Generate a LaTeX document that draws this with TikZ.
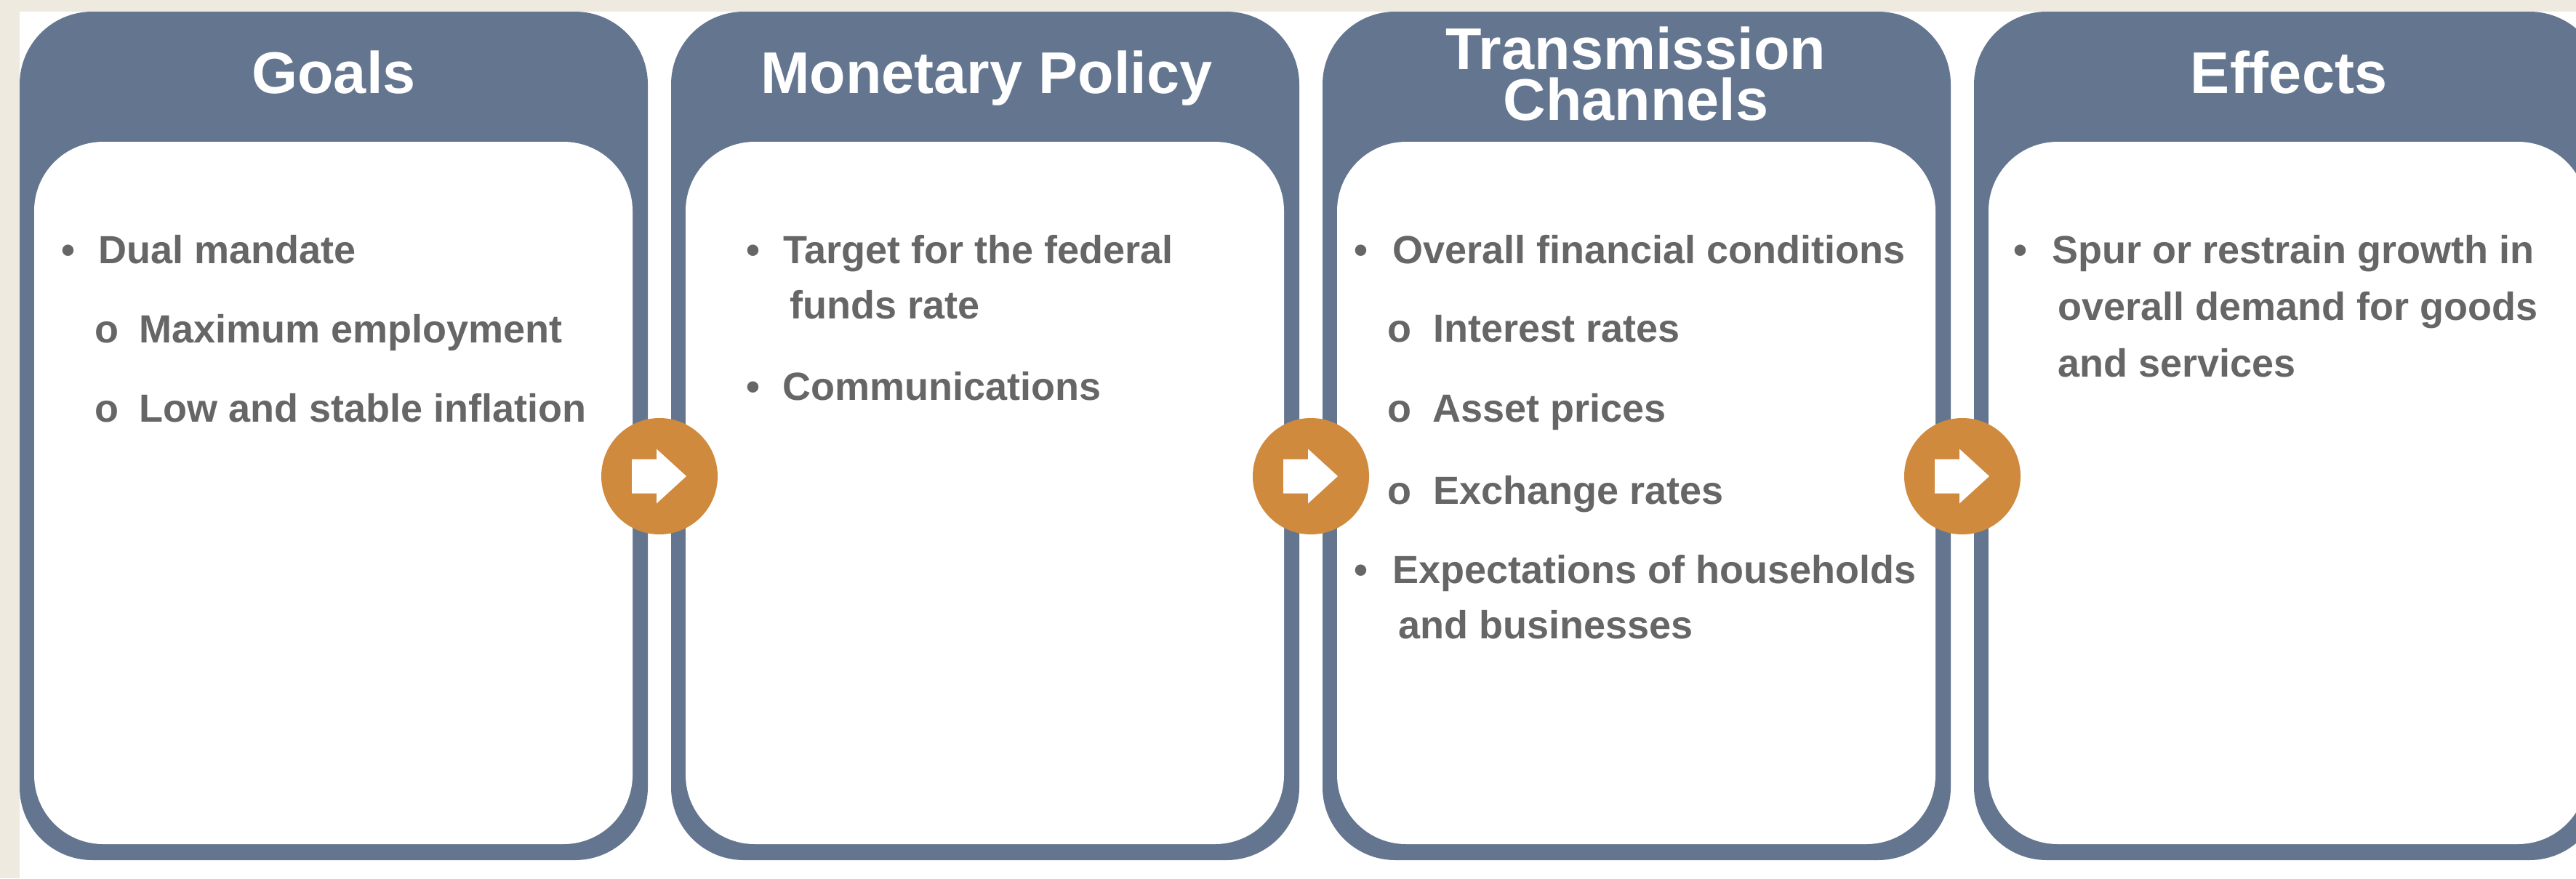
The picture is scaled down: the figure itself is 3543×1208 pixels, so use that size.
\documentclass[tikz,border=0pt]{standalone}
\usepackage{fontspec}
\setmainfont{Liberation Sans}
\definecolor{bgbeige}{HTML}{EEEAE0}
\definecolor{slate}{HTML}{64768F}
\definecolor{txtgray}{HTML}{666666}
\definecolor{circorange}{HTML}{CF8A3E}
\tikzset{
  panelouter/.style={fill=slate, rounded corners=100pt},
  panelinner/.style={fill=white, rounded corners=95pt},
  titletext/.style={inner sep=0pt, anchor=base, text=white, font=\fontsize{81}{70}\selectfont\bfseries},
  bodytext/.style={inner sep=0pt, anchor=base west, text=txtgray, font=\fontsize{54}{54}\selectfont\bfseries},
  bulletmark/.style={inner sep=0pt, anchor=base, text=txtgray, font=\fontsize{54}{54}\selectfont\bfseries},
  arrowcircle/.style={circle, fill=circorange, minimum size=160pt, inner sep=0pt},
  arrowshape/.style={fill=white}
}
\begin{document}
\begin{tikzpicture}[x=1pt,y=-1pt]
\useasboundingbox (0,0) rectangle (3543,1208);
\clip (0,0) rectangle (3543,1208);
\fill[bgbeige] (0,0) rectangle (3543,1208);
\fill[white] (27,16) rectangle (3543,1208);
% panels
\foreach \px in {27,923,1819,2715}{
  \fill[panelouter] (\px,16) rectangle ++(864,1167);
  \fill[panelinner] (\px+20,195) rectangle (\px+843,1161);
}
% titles
\node[titletext] (t1) at (459,128) {Goals};
\node[titletext] (t2) at (1357,128) {Monetary Policy};
\node[titletext, anchor=south, align=center] (t3) at (2250,166) {Transmission\\Channels};
\node[titletext] (t4) at (3148,128) {Effects};
% panel 1
\node[bulletmark] (b11) at (94,362) {•};
\node[bodytext] (p11) at (135,362) {Dual mandate};
\node[bulletmark] (b12) at (147,471) {o};
\node[bodytext] (p12) at (191,471) {Maximum employment};
\node[bulletmark] (b13) at (147,580) {o};
\node[bodytext] (p13) at (191,580) {Low and stable inflation};
% panel 2
\node[bulletmark] (b21) at (1036,362) {•};
\node[bodytext] (p21) at (1077,362) {Target for the federal};
\node[bodytext] (p21b) at (1086,438) {funds rate};
\node[bulletmark] (b22) at (1036,550) {•};
\node[bodytext] (p22) at (1076,550) {Communications};
% panel 3
\node[bulletmark] (b31) at (1872,362) {•};
\node[bodytext] (p31) at (1915,362) {Overall financial conditions};
\node[bulletmark] (b32) at (1925,470) {o};
\node[bodytext] (p32) at (1971,470) {Interest rates};
\node[bulletmark] (b33) at (1925,580) {o};
\node[bodytext] (p33) at (1970,580) {Asset prices};
\node[bulletmark] (b34) at (1925,693) {o};
\node[bodytext] (p34) at (1971,693) {Exchange rates};
\node[bulletmark] (b35) at (1872,802) {•};
\node[bodytext] (p35) at (1915,802) {Expectations of households};
\node[bodytext] (p35b) at (1923,878) {and businesses};
% panel 4
\node[bulletmark] (b41) at (2779,362) {•};
\node[bodytext] (p41) at (2822,362) {Spur or restrain growth in};
\node[bodytext] (p41b) at (2830,440) {overall demand for goods};
\node[bodytext] (p41c) at (2830,518) {and services};
% arrows
\foreach \cx/\nm in {907/a1,1803/a2,2699/a3}{
  \node[arrowcircle] (\nm) at (\cx,655) {};
  \fill[arrowshape, shift={(\nm.center)}] (-38,-23.5) -- (-4,-23.5) -- (-4,-37.5) -- (37,0) -- (-4,37.5) -- (-4,23.5) -- (-38,23.5) -- cycle;
}
\end{tikzpicture}
\end{document}
